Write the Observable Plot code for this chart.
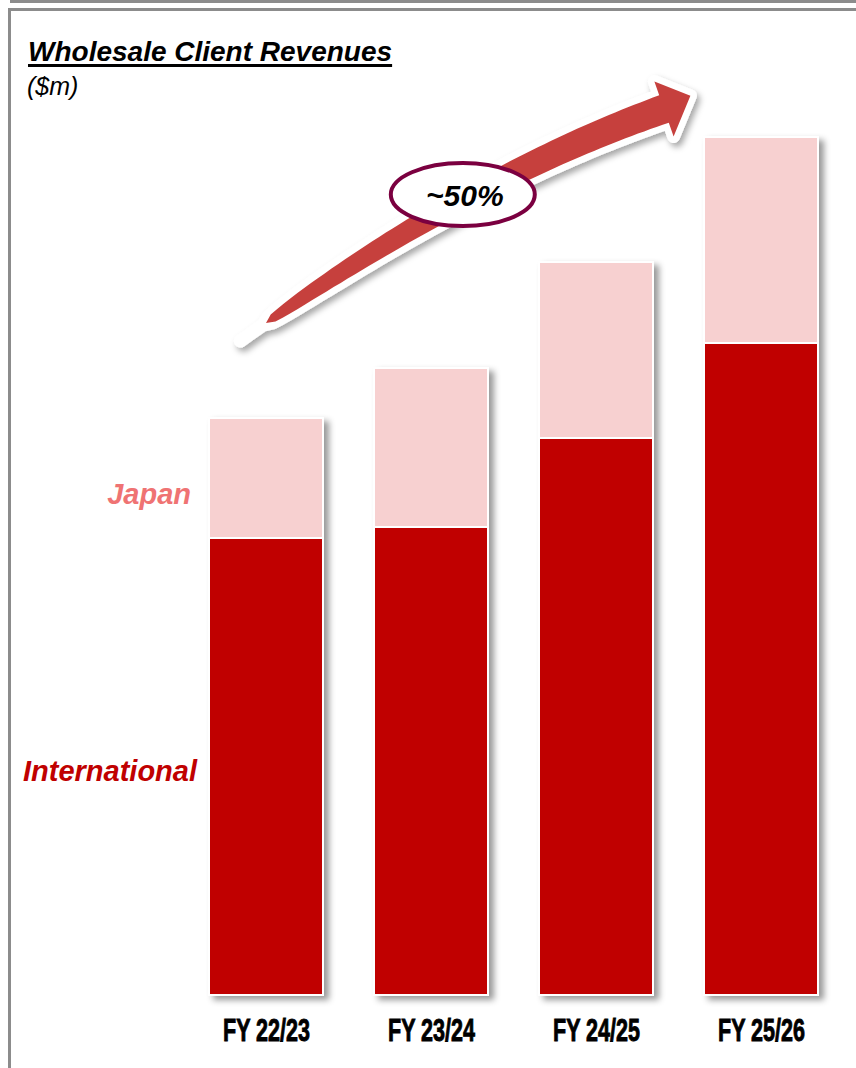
<!DOCTYPE html>
<html><head><meta charset="utf-8">
<script src="https://cdn.jsdelivr.net/npm/d3@7"></script>
<script src="https://cdn.jsdelivr.net/npm/@observablehq/plot@0.6"></script>
<style>
body{margin:0;background:#fff;}
#wrap{position:relative;width:856px;height:1068px;overflow:hidden;font-family:"Liberation Sans",Arial,sans-serif;}
#chart{position:absolute;left:0;top:0;}
.line{position:absolute;background:#8c8c8c;}
.txt{position:absolute;white-space:nowrap;line-height:1;}
#title{left:28px;top:38px;font-size:28px;font-weight:bold;font-style:italic;color:#000;text-decoration:underline;text-decoration-thickness:3px;text-underline-offset:3px;}
#unit{left:27px;top:74px;font-size:25px;font-style:italic;color:#000;}
#lblJ{right:665px;top:480px;font-size:29px;font-weight:bold;font-style:italic;color:#ef7373;}
#lblI{right:659px;top:757px;font-size:29px;font-weight:bold;font-style:italic;color:#c00000;}
</style></head><body>
<div id="wrap">
  <div id="chart"></div>
  <div class="line" style="left:10px;top:0;width:846px;height:3px"></div>
  <div class="line" style="left:8px;top:8px;width:848px;height:3px"></div>
  <div class="line" style="left:8px;top:8px;width:3px;height:1060px"></div>
  <div class="txt" id="title">Wholesale Client Revenues</div>
  <div class="txt" id="unit">($m)</div>
  <div class="txt" id="lblJ">Japan</div>
  <div class="txt" id="lblI">International</div>
</div>
<script>
// ---- data ----
const years = ["FY 22/23", "FY 23/24", "FY 24/25", "FY 25/26"];
const international = [457, 468, 557, 652];
const japan = [120, 159, 176, 206];
const segments = ["International", "Japan"];
const growthLabel = "~50%";

const rows = [];
years.forEach((yr, i) => {
  rows.push({year: yr, segment: "International", value: international[i]});
  rows.push({year: yr, segment: "Japan", value: japan[i]});
});
const totals = years.map((d, i) => international[i] + japan[i]);

const narrow = "'Liberation Sans Narrow','Arial Narrow','Liberation Sans',Arial,sans-serif";

const plot = Plot.plot({
  width: 856,
  height: 1068,
  marginLeft: 207,
  marginRight: 36,
  marginTop: 95,
  marginBottom: 73,
  x: {domain: years, paddingInner: 0.307, paddingOuter: 0, label: null},
  y: {domain: [0, 900], axis: null},
  color: {domain: segments, range: ["#c00000", "#f7d0d0"]},
  style: {background: "transparent", overflow: "visible", fontFamily: "'Liberation Sans',Arial,sans-serif"},
  marks: [
    Plot.barY(rows, {x: "year", y: "value", fill: "segment", stroke: "white", strokeWidth: 2}),
    Plot.ruleY([0], {stroke: "#d2d2d2", strokeWidth: 3, insetLeft: -24, insetRight: -36}),
    Plot.axisX({tickSize: 0, tickPadding: 23, fontSize: 31, fontWeight: "bold", fontFamily: narrow, fill: "#000"})
  ]
});
document.getElementById("chart").appendChild(plot);

const svg = d3.select(plot);
const defs = svg.insert("defs", ":first-child");
const f1 = defs.append("filter").attr("id", "barShadow").attr("x", "-20%").attr("y", "-20%").attr("width", "150%").attr("height", "150%");
f1.append("feDropShadow").attr("dx", 5).attr("dy", 4).attr("stdDeviation", 3).attr("flood-color", "#000").attr("flood-opacity", 0.4);
const f2 = defs.append("filter").attr("id", "arrowShadow").attr("x", "-20%").attr("y", "-20%").attr("width", "150%").attr("height", "150%");
f2.append("feDropShadow").attr("dx", 3).attr("dy", 4).attr("stdDeviation", 3).attr("flood-color", "#000").attr("flood-opacity", 0.35);

svg.selectAll("g[aria-label='bar']").attr("filter", "url(#barShadow)");
svg.selectAll("g[aria-label='rule']").attr("filter", "url(#barShadow)");

// squeeze axis labels like a condensed heavy face
svg.selectAll("g[aria-label='x-axis tick label'] text")
  .attr("textLength", 87).attr("lengthAdjust", "spacingAndGlyphs")
  .attr("font-weight", "bold").attr("stroke", "#000").attr("stroke-width", 0.9);

// ---- growth arrow, anchored on the scales ----
const xs = plot.scale("x"), ys = plot.scale("y");
const bw = xs.bandwidth;
const X = v => xs.apply(v), Y = v => ys.apply(v);
const P0 = [X(years[0]) + bw / 2, Y(totals[0]) - 95];
const P2 = [X(years[3]) - 40, Y(totals[3]) - 28];
const ddx = P2[0] - P0[0], ddy = P2[1] - P0[1];
const P1 = [P0[0] + 0.534 * ddx, P0[1] + 0.695 * ddy];
function bez(t) {
  const a = (1 - t) * (1 - t), b = 2 * t * (1 - t), c = t * t;
  return [a * P0[0] + b * P1[0] + c * P2[0], a * P0[1] + b * P1[1] + c * P2[1]];
}
function tang(t) {
  const tx = 2 * (1 - t) * (P1[0] - P0[0]) + 2 * t * (P2[0] - P1[0]);
  const ty = 2 * (1 - t) * (P1[1] - P0[1]) + 2 * t * (P2[1] - P1[1]);
  const l = Math.hypot(tx, ty);
  return [tx / l, ty / l];
}
function arrowPath(t0) {
  const up = [], lo = [];
  const N = 60;
  for (let k = 0; k <= N; k++) {
    const t = t0 + (1 - t0) * k / N;
    const c = bez(t), u = tang(t), n = [u[1], -u[0]];
    const w = t <= 0 ? 0 : 29 * Math.pow(t, 0.3);
    up.push([c[0] + n[0] * w / 2, c[1] + n[1] * w / 2]);
    lo.push([c[0] - n[0] * w / 2, c[1] - n[1] * w / 2]);
  }
  const u = tang(1), n = [u[1], -u[0]];
  const ub = [P2[0] + n[0] * 29, P2[1] + n[1] * 29];
  const lb = [P2[0] - n[0] * 29, P2[1] - n[1] * 29];
  const tip = [P2[0] + u[0] * 28, P2[1] + u[1] * 28 - 4];
  const pts = up.concat([ub, tip, lb], lo.reverse());
  return "M" + pts.map(p => p[0].toFixed(1) + "," + p[1].toFixed(1)).join("L") + "Z";
}
const ag = svg.append("g").attr("aria-label", "growth arrow");
ag.append("path").attr("d", arrowPath(-0.06)).attr("fill", "white").attr("stroke", "white")
  .attr("stroke-width", 13).attr("stroke-linejoin", "round").attr("filter", "url(#arrowShadow)");
ag.append("path").attr("d", arrowPath(0)).attr("fill", "#c6403d");
const ec = bez(0.475);
ag.append("ellipse").attr("cx", ec[0] + 1).attr("cy", ec[1] - 6).attr("rx", 72).attr("ry", 31.5)
  .attr("fill", "white").attr("stroke", "#7b0040").attr("stroke-width", 4);
ag.append("text").attr("x", ec[0] + 3).attr("y", ec[1] + 5).attr("text-anchor", "middle")
  .attr("font-size", 30).attr("font-weight", "bold").attr("font-style", "italic")
  .attr("font-family", "'Liberation Sans',Arial,sans-serif").attr("fill", "#000").text(growthLabel);
</script>
</body></html>
